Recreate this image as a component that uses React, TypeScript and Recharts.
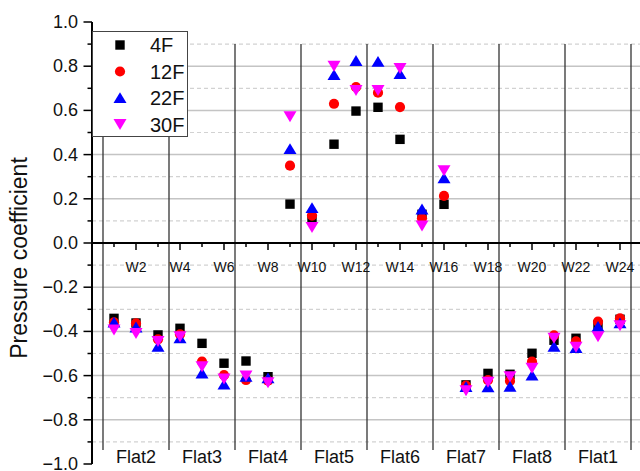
import React from 'react';
import { ScatterChart, Scatter, XAxis, YAxis, ReferenceLine, Legend } from 'recharts';

// ---------- data ----------
const positions = [1, 2, 3, 4, 5, 6, 7, 8, 9, 10, 11, 12, 13, 14, 15, 16, 17, 18, 19, 20, 21, 22, 23, 24];

const s4F = [-0.341, -0.362, -0.416, -0.386, -0.454, -0.544, -0.534, -0.605, 0.176, 0.11, 0.447, 0.597, 0.614, 0.469, 0.13, 0.175, -0.642, -0.59, -0.594, -0.499, -0.44, -0.431, -0.37, -0.345];
const s12F = [-0.359, -0.364, -0.436, -0.413, -0.537, -0.598, -0.62, -0.623, 0.35, 0.124, 0.63, 0.705, 0.68, 0.615, 0.112, 0.213, -0.645, -0.62, -0.624, -0.537, -0.418, -0.445, -0.356, -0.341];
const s22F = [-0.36, -0.382, -0.469, -0.431, -0.59, -0.64, -0.605, -0.612, 0.425, 0.158, 0.76, 0.824, 0.82, 0.765, 0.152, 0.293, -0.652, -0.653, -0.65, -0.6, -0.469, -0.475, -0.379, -0.363];
const s30F = [-0.394, -0.41, -0.446, -0.424, -0.56, -0.615, -0.602, -0.632, 0.571, 0.07, 0.8, 0.69, 0.69, 0.79, 0.077, 0.327, -0.668, -0.63, -0.605, -0.567, -0.431, -0.472, -0.424, -0.374];

const seriesNames = ['4F', '12F', '22F', '30F'];
const seriesValues = [s4F, s12F, s22F, s30F];

const wTickNames = ['W2', 'W4', 'W6', 'W8', 'W10', 'W12', 'W14', 'W16', 'W18', 'W20', 'W22', 'W24'];
const wTickPositions = [2, 4, 6, 8, 10, 12, 14, 16, 18, 20, 22, 24];

const flatNames = ['Flat2', 'Flat3', 'Flat4', 'Flat5', 'Flat6', 'Flat7', 'Flat8', 'Flat1'];
const flatCenters = [2, 5, 8, 11, 14, 17, 20, 23];
const flatDividers = [0.5, 3.5, 6.5, 9.5, 12.5, 15.5, 18.5, 21.5, 24.5];

const yTicks = [-1, -0.9, -0.8, -0.7, -0.6, -0.5, -0.4, -0.3, -0.2, -0.1, 0, 0.1, 0.2, 0.3, 0.4, 0.5, 0.6, 0.7, 0.8, 0.9, 1];
const gridMajor = [0.8, 0.6, 0.4, 0.2, -0.2, -0.4, -0.6, -0.8];
const gridMinor = [0.9, 0.7, 0.5, 0.3, 0.1, -0.1, -0.3, -0.5, -0.7, -0.9];

// ---------- layout / style constants ----------
const FONT = '"Liberation Sans", Arial, Helvetica, sans-serif';
const W_LABEL_Y = -0.107;
const FLAT_LABEL_Y = -0.968;
const DIVIDER_TOP = 0.9;
const DIVIDER_BOTTOM = -0.937;
const MAJOR_TICK = 0.032;
const MINOR_TICK = 0.018;
const TITLE_X = 19;
const TITLE_Y = 258;

const seriesStyle = [
  { kind: 'square', color: '#000000' },
  { kind: 'circle', color: '#ff0000' },
  { kind: 'up', color: '#0000ff' },
  { kind: 'down', color: '#ff00ff' },
];

function marker(kind: string, cx: number, cy: number, color: string) {
  switch (kind) {
    case 'square':
      return <rect x={cx - 4.7} y={cy - 4.7} width={9.4} height={9.4} fill={color} />;
    case 'circle':
      return <circle cx={cx} cy={cy} r={5.1} fill={color} />;
    case 'up':
      return <polygon points={`${cx - 6.5},${cy + 5} ${cx + 6.5},${cy + 5} ${cx},${cy - 5.8}`} fill={color} />;
    default:
      return <polygon points={`${cx - 6.5},${cy - 5.5} ${cx + 6.5},${cy - 5.5} ${cx},${cy + 5.5}`} fill={color} />;
  }
}

const fmt = (v: number) => {
  const s = Math.abs(v).toFixed(1);
  return v < -1e-9 ? '\u2212' + s : s;
};

const YTick = (props: any) => {
  const { x, y, payload } = props;
  const v = payload.value;
  const major = Math.abs(Math.round(v * 10)) % 2 === 0;
  return (
    <g>
      <line x1={x - (major ? 8.5 : 4.5)} x2={x} y1={y} y2={y} stroke="#000" strokeWidth={1.5} />
      {major && (
        <text x={x - 14} y={y} textAnchor="end" dominantBaseline="central" fontSize={18} fontFamily={FONT} fill="#111">
          {fmt(v)}
        </text>
      )}
    </g>
  );
};

const YTitle = () => (
  <text
    x={TITLE_X}
    y={TITLE_Y}
    transform={`rotate(-90, ${TITLE_X}, ${TITLE_Y})`}
    textAnchor="middle"
    dominantBaseline="central"
    fontSize={23}
    fontFamily={FONT}
    fill="#111"
  >
    Pressure coefficient
  </text>
);

const LegendBox = () => (
  <svg width={96} height={106} style={{ display: 'block' }}>
    <rect x={0.5} y={0.5} width={95} height={105} fill="#fff" stroke="#444" strokeWidth={1} />
    {seriesNames.map((name, i) => {
      const cy = 14 + i * 26.5;
      return (
        <g key={name}>
          {marker(seriesStyle[i].kind, 28, cy, seriesStyle[i].color)}
          <text x={58} y={cy} dominantBaseline="central" fontSize={20} fontFamily={FONT} fill="#111">
            {name}
          </text>
        </g>
      );
    })}
  </svg>
);

const seriesData = seriesValues.map((vals) => vals.map((v, i) => ({ x: positions[i], y: v })));
const wLabelData = wTickNames.map((name, i) => ({ x: wTickPositions[i], y: W_LABEL_Y, name }));
const flatLabelData = flatNames.map((name, i) => ({ x: flatCenters[i], y: FLAT_LABEL_Y, name }));

export default function App() {
  return (
    <div style={{ position: 'absolute', left: 0, top: 0, width: 640, height: 471, overflow: 'hidden', background: '#fff' }}>
      <ScatterChart width={650} height={471} margin={{ top: 22, right: 8, bottom: 7, left: 0 }}>
        <XAxis type="number" dataKey="x" domain={[0, 25]} hide allowDataOverflow />
        <YAxis
          type="number"
          dataKey="y"
          domain={[-1, 1]}
          ticks={yTicks}
          interval={0}
          width={92}
          tickSize={0}
          tickMargin={0}
          tickLine={false}
          axisLine={{ stroke: '#000', strokeWidth: 2 }}
          tick={<YTick />}
          label={<YTitle />}
          allowDataOverflow
        />
        {gridMinor.map((v) => (
          <ReferenceLine key={'mn' + v} y={v} stroke="#d2d2d2" strokeWidth={1.2} strokeDasharray="4 3" />
        ))}
        {gridMajor.map((v) => (
          <ReferenceLine key={'mj' + v} y={v} stroke="#c4c4c4" strokeWidth={1.5} />
        ))}
        {flatDividers.map((d) => (
          <ReferenceLine
            key={'dv' + d}
            segment={[{ x: d, y: DIVIDER_TOP }, { x: d, y: DIVIDER_BOTTOM }]}
            stroke="#333"
            strokeWidth={1.3}
          />
        ))}
        <ReferenceLine y={0} stroke="#000" strokeWidth={2} />
        {positions.map((p) => (
          <ReferenceLine
            key={'tk' + p}
            segment={[{ x: p, y: 0 }, { x: p, y: p % 2 === 0 ? -MAJOR_TICK : -MINOR_TICK }]}
            stroke="#000"
            strokeWidth={1.5}
          />
        ))}
        <Scatter
          data={wLabelData}
          legendType="none"
          isAnimationActive={false}
          shape={(p: any) => (
            <text x={p.cx} y={p.cy} textAnchor="middle" dominantBaseline="central" fontSize={14} fontFamily={FONT} fill="#111">
              {p.payload.name}
            </text>
          )}
        />
        <Scatter
          data={flatLabelData}
          legendType="none"
          isAnimationActive={false}
          shape={(p: any) => (
            <text x={p.cx} y={p.cy} textAnchor="middle" dominantBaseline="central" fontSize={18} fontFamily={FONT} fill="#111">
              {p.payload.name}
            </text>
          )}
        />
        {seriesData.map((data, i) => (
          <Scatter
            key={seriesNames[i]}
            name={seriesNames[i]}
            data={data}
            isAnimationActive={false}
            fill={seriesStyle[i].color}
            shape={(p: any) => marker(seriesStyle[i].kind, p.cx, p.cy, seriesStyle[i].color)}
          />
        ))}
        <Legend
          layout="vertical"
          align="center"
          verticalAlign="middle"
          content={<LegendBox />}
          wrapperStyle={{ left: 92, top: 31, width: 96, height: 106 }}
        />
      </ScatterChart>
    </div>
  );
}
